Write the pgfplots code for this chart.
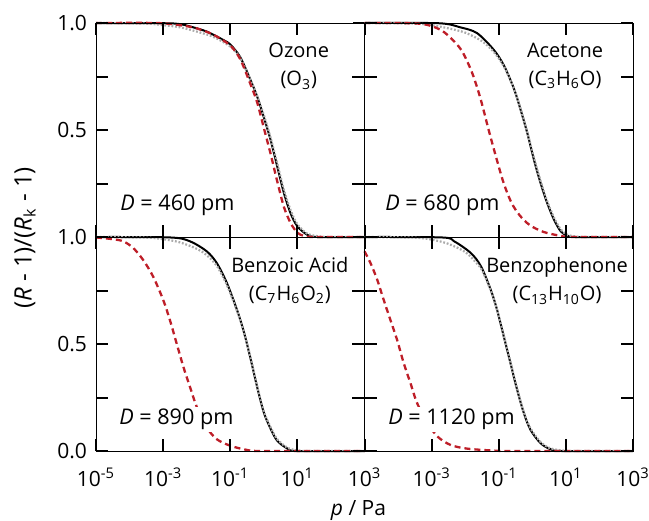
\documentclass[border=0pt]{standalone}
\usepackage{fontspec}
\setmainfont{Open Sans}
\usepackage{pgfplots}
\pgfplotsset{compat=1.18}
\usepackage{pgfplotstable}
\usepgfplotslibrary{groupplots}
\definecolor{myred}{RGB}{190,30,40}
\definecolor{mygray}{RGB}{170,170,170}

% x = log10(p / Pa), y = (R-1)/(R_K-1)
\pgfplotstableread{
lx y
-5 1.000
-3 0.999
-2.5 0.995
-2.2 0.984
-1.7 0.960
-1.2 0.920
-1.0 0.900
-0.7 0.840
-0.4 0.735
-0.2 0.657
0.0 0.560
0.2 0.455
0.4 0.330
0.6 0.205
0.8 0.110
1.0 0.050
1.3 0.010
1.6 0.000
3 0.000
}\ozk
\pgfplotstableread{
lx y
-5 1.000
-3.5 0.997
-3 0.990
-2.5 0.980
-2.0 0.960
-1.5 0.935
-1.0 0.890
-0.7 0.835
-0.4 0.735
-0.2 0.660
0.0 0.570
0.2 0.465
0.4 0.345
0.6 0.220
0.8 0.125
1.0 0.060
1.3 0.015
1.7 0.002
2.0 0.000
3 0.000
}\ozg
\pgfplotstableread{
lx y
-5 1.000
-3.2 1.000
-2.5 0.990
-2.0 0.975
-1.5 0.945
-1.0 0.895
-0.7 0.830
-0.4 0.715
-0.2 0.630
0.0 0.510
0.2 0.390
0.4 0.260
0.6 0.140
0.8 0.065
1.0 0.020
1.2 0.005
1.5 0.000
3 0.000
}\ozr
\pgfplotstableread{
lx y
-5 1.000
-2.8 0.999
-2.15 0.980
-1.65 0.953
-1.15 0.875
-0.84 0.800
-0.54 0.690
-0.35 0.595
-0.15 0.486
0.05 0.360
0.25 0.250
0.45 0.156
0.65 0.080
0.85 0.026
1.05 0.006
1.3 0.000
3 0.000
}\ack
\pgfplotstableread{
lx y
-5 1.000
-3.5 0.997
-3 0.990
-2.5 0.975
-2.0 0.955
-1.5 0.915
-1.15 0.865
-0.84 0.795
-0.54 0.690
-0.35 0.600
-0.15 0.490
0.05 0.370
0.25 0.260
0.45 0.165
0.65 0.090
0.85 0.035
1.05 0.010
1.4 0.001
1.8 0.000
3 0.000
}\acg
\pgfplotstableread{
lx y
-5 1.000
-3.6 0.999
-3.1 0.990
-2.7 0.965
-2.4 0.925
-2.1 0.870
-1.8 0.770
-1.55 0.650
-1.3 0.500
-1.1 0.385
-0.86 0.255
-0.62 0.160
-0.37 0.100
-0.07 0.055
0.33 0.024
0.82 0.006
1.2 0.000
3 0.000
}\acr
\pgfplotstableread{
lx y
-5 1.000
-2.8 0.998
-2.2 0.980
-1.7 0.933
-1.4 0.878
-1.1 0.785
-0.8 0.660
-0.6 0.560
-0.4 0.435
-0.2 0.300
0.0 0.180
0.2 0.105
0.4 0.048
0.7 0.012
1.0 0.000
3 0.000
}\bak
\pgfplotstableread{
lx y
-5 1.000
-3.5 0.997
-3 0.990
-2.5 0.975
-2.0 0.945
-1.7 0.915
-1.4 0.865
-1.1 0.775
-0.8 0.655
-0.6 0.560
-0.4 0.440
-0.2 0.305
0.0 0.185
0.2 0.112
0.4 0.055
0.7 0.016
1.0 0.003
1.4 0.000
3 0.000
}\bag
\pgfplotstableread{
lx y
-5 0.998
-4.5 0.990
-4.19 0.980
-3.9 0.950
-3.6 0.894
-3.3 0.816
-3.0 0.707
-2.8 0.613
-2.6 0.504
-2.4 0.395
-2.2 0.300
-2.0 0.207
-1.7 0.110
-1.4 0.055
-1.0 0.025
-0.5 0.005
0 0.000
3 0.000
}\bzr
\pgfplotstableread{
lx y
-5 1.000
-2.7 0.998
-2.33 0.980
-1.83 0.925
-1.53 0.863
-1.24 0.754
-1.05 0.660
-0.85 0.535
-0.65 0.410
-0.45 0.285
-0.25 0.176
-0.05 0.098
0.25 0.036
0.55 0.008
0.9 0.000
3 0.000
}\bpk
\pgfplotstableread{
lx y
-5 1.000
-3.5 0.997
-3 0.988
-2.5 0.968
-2.0 0.930
-1.7 0.885
-1.5 0.845
-1.24 0.750
-1.05 0.660
-0.85 0.540
-0.65 0.415
-0.45 0.290
-0.25 0.180
-0.05 0.105
0.25 0.042
0.55 0.012
1.0 0.001
1.4 0.000
3 0.000
}\bpg
\pgfplotstableread{
lx y
-5 0.933
-4.82 0.878
-4.62 0.800
-4.43 0.707
-4.23 0.613
-4.03 0.520
-3.83 0.410
-3.63 0.317
-3.43 0.223
-3.12 0.130
-2.82 0.067
-2.43 0.028
-1.93 0.011
-1.14 0.002
-0.5 0.000
3 0.000
}\bpr

\pgfplotsset{
  kcurve/.style={black, line width=1pt, smooth, tension=0.5, no marks},
  gcurve/.style={mygray, line width=1.1pt, dash pattern=on 0.9pt off 0.9pt, smooth, tension=0.5, no marks},
  rcurve/.style={myred, line width=1.15pt, dash pattern=on 3pt off 2pt, smooth, tension=0.5, no marks},
}
\tikzset{
  mylab/.style={font=\fontsize{10}{14}\selectfont, align=center},
  mydlab/.style={font=\fontsize{10.8}{12}\selectfont, anchor=base west, fill=white, inner sep=1pt},
}
% inward tick marks, drawn in axis units (6pt = 0.358 x-units = 0.056 y-units)
\newcommand{\panelticks}{%
  \draw[black, line width=1pt] (axis cs:-3,0) -- (axis cs:-3,0.056) (axis cs:-1,0) -- (axis cs:-1,0.056) (axis cs:1,0) -- (axis cs:1,0.056)
    (axis cs:-3,1) -- (axis cs:-3,0.944) (axis cs:-1,1) -- (axis cs:-1,0.944) (axis cs:1,1) -- (axis cs:1,0.944)
    (axis cs:-5,0.25) -- (axis cs:-4.642,0.25) (axis cs:-5,0.5) -- (axis cs:-4.642,0.5) (axis cs:-5,0.75) -- (axis cs:-4.642,0.75)
    (axis cs:3,0.25) -- (axis cs:2.642,0.25) (axis cs:3,0.5) -- (axis cs:2.642,0.5) (axis cs:3,0.75) -- (axis cs:2.642,0.75);%
}

\begin{document}
\begin{tikzpicture}
\begin{groupplot}[
  group style={group size=2 by 2, horizontal sep=0pt, vertical sep=0pt},
  scale only axis, width=134.25pt, height=107pt,
  xmin=-5, xmax=3, ymin=0, ymax=1,
  xtick={-5,-3,-1,1,3}, ytick={0,0.25,0.5,0.75,1},
  major tick length=6pt,
  tick style={black, line width=1pt},
  axis on top,
  clip=false,
  tick label style={font=\fontsize{10.5}{12}\selectfont},
  xticklabel style={yshift=-5pt},
  yticklabel style={xshift=-1pt},
]
\nextgroupplot[xticklabels={,,,,}, yticklabels={,,0.5,,1.0}]
\panelticks
\addplot[kcurve] table[x=lx,y=y] {\ozk};
\addplot[gcurve] table[x=lx,y=y] {\ozg};
\addplot[rcurve] table[x=lx,y=y] {\ozr};
\node[mylab] at (rel axis cs:0.755,0.798) {Ozone\\(O\textsubscript{3})};
\node[mydlab] at (rel axis cs:0.082,0.126) {\textit{D} = 460 pm};

\nextgroupplot[xticklabels={,,,,}, yticklabels={,,,,}]
\panelticks
\addplot[kcurve] table[x=lx,y=y] {\ack};
\addplot[gcurve] table[x=lx,y=y] {\acg};
\addplot[rcurve] table[x=lx,y=y] {\acr};
\node[mylab] at (rel axis cs:0.747,0.798) {Acetone\\(C\textsubscript{3}H\textsubscript{6}O)};
\node[mydlab] at (rel axis cs:0.069,0.126) {\textit{D} = 680 pm};

\nextgroupplot[yticklabels={0.0,,0.5,,1.0},
  xticklabels={10\textsuperscript{-5},10\textsuperscript{-3},10\textsuperscript{-1},10\textsuperscript{1},10\textsuperscript{3}}]
\panelticks
\addplot[kcurve] table[x=lx,y=y] {\bak};
\addplot[gcurve] table[x=lx,y=y] {\bag};
\addplot[rcurve] table[x=lx,y=y] {\bzr};
\node[mydlab] at (rel axis cs:0.078,0.122) {\textit{D} = 890 pm};
\node[mylab] at (rel axis cs:0.722,0.798) {Benzoic Acid\\(C\textsubscript{7}H\textsubscript{6}O\textsubscript{2})};

\nextgroupplot[yticklabels={,,,,}, xticklabels={,10\textsuperscript{-3},10\textsuperscript{-1},10\textsuperscript{1},10\textsuperscript{3}}]
\panelticks
\addplot[kcurve] table[x=lx,y=y] {\bpk};
\addplot[gcurve] table[x=lx,y=y] {\bpg};
\addplot[rcurve] table[x=lx,y=y] {\bpr};
\node[mydlab] at (rel axis cs:0.080,0.122) {\textit{D} = 1120 pm};
\node[mylab] at (rel axis cs:0.717,0.795) {Benzophenone\\(C\textsubscript{13}H\textsubscript{10}O)};
\end{groupplot}
\node[rotate=90, font=\fontsize{12}{14}\selectfont] at ([xshift=-35.5pt,yshift=-0.5pt]group c1r1.south west) {(\textit{R} - 1)/(\textit{R}\textsubscript{k} - 1)};
\node[font=\fontsize{10.5}{12}\selectfont] at ([xshift=-3pt,yshift=-29.5pt]group c1r2.south east) {\textit{p} / Pa};
\pgfresetboundingbox
\path ([xshift=-48pt,yshift=11.5pt]group c1r1.north west) rectangle ([xshift=8pt,yshift=-34.5pt]group c2r2.south east);
\end{tikzpicture}
\end{document}
